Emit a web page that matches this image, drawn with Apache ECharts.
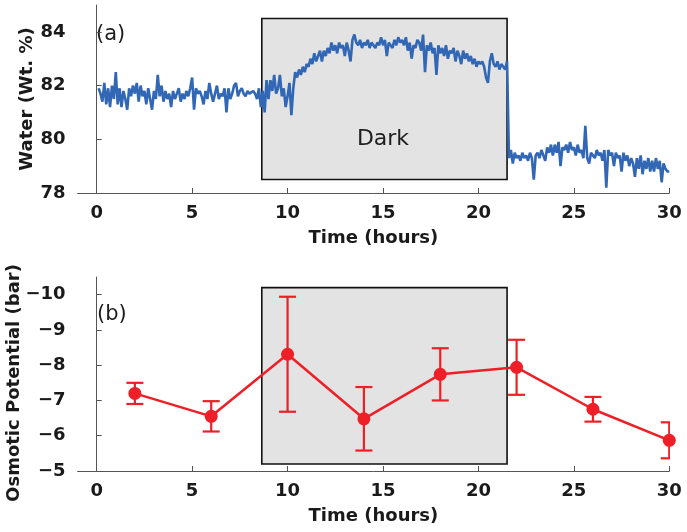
<!DOCTYPE html>
<html><head><meta charset="utf-8">
<script src="https://cdn.jsdelivr.net/npm/echarts@6/dist/echarts.min.js"></script>
<style>html,body{margin:0;padding:0;background:#fff}#c{width:687px;height:532px}</style>
</head><body><div id="c"></div>
<script>
// ---- Data ----
var waterStart = 0.1, waterStep = 0.1; // sampling grid (hours)
var waterValues = [
  81.9, 81.7, 81.4, 82.1, 81.3, 81.9, 81.2, 82.0, 81.5, 82.5,
  81.3, 81.9, 81.2, 81.8, 81.5, 81.1, 81.9, 81.6, 82.0, 81.7,
  82.1, 81.4, 82.0, 81.6, 81.8, 81.3, 81.9, 81.5, 81.1, 81.8,
  81.5, 82.4, 81.6, 82.0, 81.4, 81.8, 81.5, 81.7, 81.2, 81.8,
  81.5, 81.7, 81.9, 81.4, 81.7, 81.5, 81.8, 81.6, 81.9, 82.3,
  81.1, 81.9, 81.7, 81.8, 81.6, 81.3, 81.8, 81.5, 82.1, 81.7,
  81.4, 81.7, 82.0, 81.5, 81.7, 81.6, 81.9, 81.0, 81.9, 81.5,
  81.7, 82.0, 82.1, 81.6, 81.8, 81.9, 81.7, 81.6, 81.8, 81.7,
  81.7, 81.8, 81.7, 81.5, 81.9, 81.2, 81.8, 81.0, 82.2, 81.5,
  82.2, 81.8, 82.4, 81.7, 81.9, 82.4, 81.6, 81.9, 81.2, 81.6,
  82.1, 80.9, 81.9, 82.5, 82.3, 82.6, 82.4, 82.7, 82.5, 82.8,
  82.7, 83.0, 82.8, 83.2, 82.9, 83.1, 83.3, 82.9, 83.3, 83.1,
  83.4, 83.2, 83.6, 83.3, 83.5, 83.2, 83.6, 83.4, 83.5, 83.1,
  83.6, 83.3, 82.9, 83.7, 83.9, 83.6, 83.5, 83.7, 83.4, 83.6,
  83.5, 83.7, 83.4, 83.6, 83.5, 83.4, 83.6, 83.5, 83.8, 83.5,
  83.7, 83.1, 83.6, 83.5, 83.4, 83.7, 83.5, 83.8, 83.6, 83.7,
  83.5, 83.8, 83.3, 83.6, 83.0, 83.5, 83.4, 83.7, 83.6, 83.3,
  83.9, 82.5, 83.5, 83.3, 83.6, 83.2, 83.4, 82.4, 83.5, 83.2,
  83.4, 83.1, 83.5, 83.0, 83.3, 83.2, 83.4, 82.9, 83.3, 83.1,
  82.8, 83.3, 83.0, 83.2, 82.9, 83.1, 82.8, 83.0, 82.7, 82.9,
  82.8, 82.9, 82.7, 82.3, 82.1, 82.9, 83.2, 82.8, 82.7, 82.9,
  82.6, 82.8, 82.7, 82.6, 82.9, 79.3, 79.6, 79.1, 79.5, 79.3,
  79.4, 79.2, 79.5, 79.3, 79.4, 79.2, 79.5, 79.3, 78.5, 79.4,
  79.5, 79.3, 79.6, 79.4, 79.2, 79.7, 79.5, 79.8, 79.4, 79.8,
  79.5, 79.9, 79.0, 79.7, 79.6, 79.8, 79.5, 79.9, 79.6, 79.7,
  79.4, 79.8, 79.5, 79.6, 79.3, 80.5, 79.3, 79.1, 79.5, 79.4,
  79.3, 79.6, 79.4, 79.5, 79.2, 79.6, 78.2, 79.6, 79.4, 79.5,
  79.0, 79.5, 79.3, 79.4, 78.8, 79.5, 79.2, 79.4, 79.0, 79.3,
  79.1, 78.6, 79.3, 78.9, 79.4, 78.7, 79.2, 78.9, 79.3, 78.8,
  79.2, 78.8, 79.3, 78.9, 79.2, 78.4, 79.1, 78.9, 78.8, 78.8
];
var osmoTime = [2, 6, 10, 14, 18, 22, 26, 30];
var osmoMean = [-7.2, -6.55, -8.31, -6.48, -7.74, -7.94, -6.75, -5.87];
var osmoErr  = [0.3, 0.43, 1.63, 0.9, 0.74, 0.78, 0.35, 0.51];
var xTicks = [0, 5, 10, 15, 20, 25, 30];
var waterTicks = [78, 80, 82, 84];
var osmoTicks = [-10, -9, -8, -7, -6, -5];
var darkStart = 8.65, darkEnd = 21.5;
var darkTopA = 84.5, darkBotA = 78.5;
var darkTopB = -10.2, darkBotB = -5.2;
var darkLabelPos = [15, 80];

// ---- Build ----
var FONT = '"DejaVu Sans", Verdana, sans-serif';
var BLUE = '#3267b6', RED = '#ee1f26', AXC = '#555', TXT = '#1a1a1a';
var waterData = waterValues.map(function (v, i) {
  return [+(waterStart + i * waterStep).toFixed(2), v];
});
var osmoData = osmoTime.map(function (t, i) { return [t, osmoMean[i]]; });
var errData = osmoTime.map(function (t, i) {
  return [t, osmoMean[i] - osmoErr[i], osmoMean[i] + osmoErr[i]];
});
var boldText = { fontSize: 18, fontWeight: 'bold', color: TXT, fontFamily: FONT };

function xAxisCfg(gi) {
  return {
    type: 'value', gridIndex: gi, min: -1, max: 30,
    axisLine: { lineStyle: { color: AXC, width: 1 } },
    axisTick: { inside: true, length: 5, customValues: xTicks, lineStyle: { color: AXC } },
    axisLabel: Object.assign({ customValues: xTicks, margin: 11 }, boldText),
    splitLine: { show: false },
    name: 'Time (hours)', nameLocation: 'middle', nameGap: 36,
    nameTextStyle: boldText
  };
}

var option = {
  animation: false,
  textStyle: { fontFamily: FONT },
  grid: [
    { left: 77.6, top: 5, width: 591.7, height: 188 },
    { left: 77.6, top: 277, width: 591.7, height: 194 }
  ],
  xAxis: [xAxisCfg(0), xAxisCfg(1)],
  yAxis: [
    {
      type: 'value', gridIndex: 0, min: 78, max: 85,
      axisLine: { show: true, lineStyle: { color: AXC, width: 1 } },
      axisTick: { show: true, inside: true, length: 5, customValues: waterTicks, lineStyle: { color: AXC } },
      axisLabel: Object.assign({ customValues: waterTicks, margin: 12 }, boldText),
      splitLine: { show: false },
      name: 'Water (Wt. %)', nameLocation: 'middle', nameGap: 41, nameMoveOverlap: false,
      nameTextStyle: boldText
    },
    {
      type: 'value', gridIndex: 1, min: -10.5, max: -5, inverse: true,
      axisLine: { show: true, lineStyle: { color: AXC, width: 1 } },
      axisTick: { show: true, inside: true, length: 5, customValues: osmoTicks, lineStyle: { color: AXC } },
      axisLabel: Object.assign({ customValues: osmoTicks, margin: 12,
                   formatter: function (v) { return v < 0 ? '\u2212' + Math.abs(v) : String(v); } }, boldText),
      splitLine: { show: false }
    }
  ],
  graphic: [
    { type: 'text', left: 96, top: 24, style: { text: '(a)', fontSize: 21, fill: '#1e1e1e', fontFamily: FONT } },
    { type: 'text', left: 97, top: 304, style: { text: '(b)', fontSize: 21, fill: '#1e1e1e', fontFamily: FONT } },
    { type: 'text', x: 14, y: 383, rotation: Math.PI / 2,
      style: { text: 'Osmotic Potential (bar)', fontSize: 18, fontWeight: 'bold', fill: TXT, fontFamily: FONT,
               align: 'center', verticalAlign: 'middle' } }
  ],
  series: [
    {
      type: 'line', xAxisIndex: 0, yAxisIndex: 0, data: waterData,
      showSymbol: false, symbol: 'none',
      lineStyle: { color: BLUE, width: 2.6 }, z: 3,
      markArea: {
        silent: true,
        itemStyle: { color: '#e3e3e3', borderColor: '#111', borderWidth: 1.6 },
        data: [[{ coord: [darkStart, darkTopA] }, { coord: [darkEnd, darkBotA] }]]
      }
    },
    {
      type: 'scatter', xAxisIndex: 0, yAxisIndex: 0, data: [darkLabelPos],
      symbolSize: 2, itemStyle: { color: 'rgba(0,0,0,0)' }, silent: true, z: 5,
      label: { show: true, position: 'inside', formatter: 'Dark', fontSize: 22, color: '#1e1e1e',
               fontFamily: FONT, fontWeight: 'normal', opacity: 1 }
    },
    {
      type: 'custom', xAxisIndex: 1, yAxisIndex: 1, data: errData, clip: true, z: 3,
      renderItem: function (params, api) {
        var x = api.value(0);
        var p1 = api.coord([x, api.value(1)]);
        var p2 = api.coord([x, api.value(2)]);
        var hw = 8.5;
        var st = { stroke: RED, lineWidth: 2.2, fill: null };
        return { type: 'group', children: [
          { type: 'line', shape: { x1: p1[0], y1: p1[1], x2: p2[0], y2: p2[1] }, style: st },
          { type: 'line', shape: { x1: p1[0] - hw, y1: p1[1], x2: p1[0] + hw, y2: p1[1] }, style: st },
          { type: 'line', shape: { x1: p2[0] - hw, y1: p2[1], x2: p2[0] + hw, y2: p2[1] }, style: st }
        ] };
      },
      markArea: {
        silent: true,
        itemStyle: { color: '#e3e3e3', borderColor: '#111', borderWidth: 1.6 },
        data: [[{ coord: [darkStart, darkTopB] }, { coord: [darkEnd, darkBotB] }]]
      }
    },
    {
      type: 'line', xAxisIndex: 1, yAxisIndex: 1, data: osmoData, clip: false, z: 4,
      symbol: 'circle', symbolSize: 13, showSymbol: true,
      itemStyle: { color: RED }, lineStyle: { color: RED, width: 2.5 }
    }
  ]
};
var chart = echarts.init(document.getElementById('c'), null, { renderer: 'canvas' });
chart.setOption(option);
</script></body></html>
